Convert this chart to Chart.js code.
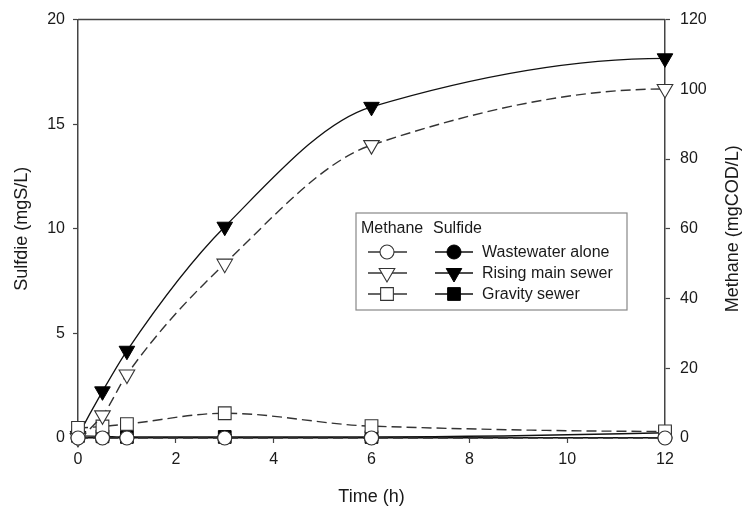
<!DOCTYPE html>
<html>
<head>
<meta charset="utf-8">
<script src="https://cdn.jsdelivr.net/npm/chart.js@4/dist/chart.umd.min.js"></script>
<style>
  html, body { margin: 0; padding: 0; background: #fff; }
  #wrap { width: 748px; height: 516px; }
</style>
</head>
<body>
<div id="wrap"><canvas id="c" width="748" height="516"></canvas></div>
<script>
// ---- Data ----
const times = [0, 0.5, 1, 3, 6, 12];
const methaneWastewater = [0, 0, 0, 0, 0, 0];
const methaneRising = [0, 6.5, 18.2, 50.0, 84.0, 100.1];
const methaneGravity = [2.9, 3.3, 4.0, 7.1, 3.4, 1.9];
const sulfideWastewater = [0.02, 0.02, 0.02, 0.02, 0.02, 0.02];
const sulfideRising = [0.1, 2.23, 4.17, 10.1, 15.83, 18.15];
const sulfideGravity = [0.1, 0.08, 0.05, 0.05, 0.05, 0.25];
const seriesNames = ['Wastewater alone', 'Rising main sewer', 'Gravity sewer'];
const legendHeaders = ['Methane', 'Sulfide'];
const xTicks = [0, 2, 4, 6, 8, 10, 12];
const leftTicks = [0, 5, 10, 15, 20];
const rightTicks = [0, 20, 40, 60, 80, 100, 120];
const xTitle = 'Time (h)';
const leftTitle = 'Sulfdie (mgS/L)';
const rightTitle = 'Methane (mgCOD/L)';

const FONT = '"Liberation Sans", Arial, sans-serif';
const pts = arr => times.map((t, i) => ({ x: t, y: arr[i] }));

const styles = [
  { pointStyle: 'circle', radius: 7, rotation: 0 },
  { pointStyle: 'triangle', radius: 9, rotation: 180 },
  { pointStyle: 'rect', radius: 9, rotation: 0 }
];

function methaneDs(label, arr, s) {
  return {
    label: 'Methane ' + label, data: pts(arr), yAxisID: 'yR',
    borderColor: '#333333', borderWidth: 1.4, borderDash: [10, 5],
    pointStyle: s.pointStyle, pointRadius: s.radius, pointRotation: s.rotation,
    pointBackgroundColor: '#ffffff', pointBorderColor: '#333333', pointBorderWidth: 1.1,
    cubicInterpolationMode: 'monotone', clip: false, fill: false
  };
}
function sulfideDs(label, arr, s) {
  return {
    label: 'Sulfide ' + label, data: pts(arr), yAxisID: 'yL',
    borderColor: '#111111', borderWidth: 1.3,
    pointStyle: s.pointStyle, pointRadius: s.radius, pointRotation: s.rotation,
    pointBackgroundColor: '#000000', pointBorderColor: '#000000', pointBorderWidth: 1,
    cubicInterpolationMode: 'monotone', clip: false, fill: false
  };
}

const datasets = [
  methaneDs(seriesNames[0], methaneWastewater, styles[0]),
  methaneDs(seriesNames[1], methaneRising, styles[1]),
  methaneDs(seriesNames[2], methaneGravity, styles[2]),
  sulfideDs(seriesNames[0], sulfideWastewater, styles[0]),
  sulfideDs(seriesNames[1], sulfideRising, styles[1]),
  sulfideDs(seriesNames[2], sulfideGravity, styles[2])
];

// Shape-preserving (PCHIP) control points computed from the library's pixel positions
function pchipSlopes(x, y) {
  const n = x.length;
  const h = [], del = [];
  for (let k = 0; k < n - 1; k++) { h.push(x[k + 1] - x[k]); del.push((y[k + 1] - y[k]) / h[k]); }
  const d = new Array(n).fill(0);
  if (n === 2) { d[0] = d[1] = del[0]; return d; }
  for (let k = 1; k < n - 1; k++) {
    if (del[k - 1] * del[k] > 0) {
      const w1 = 2 * h[k] + h[k - 1], w2 = h[k] + 2 * h[k - 1];
      d[k] = (w1 + w2) / (w1 / del[k - 1] + w2 / del[k]);
    }
  }
  const endSlope = (h0, h1, d0, d1) => {
    let s = ((2 * h0 + h1) * d0 - h0 * d1) / (h0 + h1);
    if (Math.sign(s) !== Math.sign(d0)) s = 0;
    else if (Math.sign(d0) !== Math.sign(d1) && Math.abs(s) > Math.abs(3 * d0)) s = 3 * d0;
    return s;
  };
  d[0] = endSlope(h[0], h[1], del[0], del[1]);
  d[n - 1] = endSlope(h[n - 2], h[n - 3], del[n - 2], del[n - 3]);
  return d;
}

const splinePlugin = {
  id: 'pchipSpline',
  beforeDatasetDraw(chart, args) {
    const meta = args.meta;
    const line = meta.dataset;
    if (!line || !meta.data || meta.data.length < 2) return;
    if (line.updateControlPoints) line.updateControlPoints(chart.chartArea, 'x');
    const p = meta.data;
    const xs = p.map(e => e.x), ys = p.map(e => e.y);
    const d = pchipSlopes(xs, ys);
    for (let i = 0; i < p.length; i++) {
      const hPrev = i > 0 ? xs[i] - xs[i - 1] : 0;
      const hNext = i < p.length - 1 ? xs[i + 1] - xs[i] : 0;
      p[i].cp1x = xs[i] - hPrev / 3; p[i].cp1y = ys[i] - d[i] * hPrev / 3;
      p[i].cp2x = xs[i] + hNext / 3; p[i].cp2y = ys[i] + d[i] * hNext / 3;
    }
    line._pointsUpdated = true;
    line._path = undefined;
  }
};

const decorPlugin = {
  id: 'decor',
  beforeDraw(chart) {
    const ctx = chart.ctx;
    ctx.save();
    ctx.fillStyle = '#ffffff';
    ctx.fillRect(0, 0, chart.width, chart.height);
    ctx.restore();
  },
  afterDraw(chart) {
    const ctx = chart.ctx;
    const a = chart.chartArea;
    ctx.save();
    // top frame line
    ctx.strokeStyle = '#444';
    ctx.lineWidth = 1.5;
    ctx.beginPath();
    ctx.moveTo(a.left, a.top);
    ctx.lineTo(a.right, a.top);
    ctx.stroke();

    // axis titles
    ctx.fillStyle = '#1a1a1a';
    ctx.font = '18px ' + FONT;
    ctx.textAlign = 'center';
    ctx.textBaseline = 'middle';
    ctx.fillText(xTitle, (a.left + a.right) / 2, 497);
    const midY = (a.top + a.bottom) / 2;
    ctx.save();
    ctx.translate(22, midY);
    ctx.rotate(-Math.PI / 2);
    ctx.fillText(leftTitle, 0, 0);
    ctx.restore();
    ctx.save();
    ctx.translate(733, midY);
    ctx.rotate(-Math.PI / 2);
    ctx.fillText(rightTitle, 0, 0);
    ctx.restore();

    // legend box
    const bx = 356, by = 213, bw = 627 - 356, bh = 310 - 213;
    ctx.fillStyle = '#ffffff';
    ctx.fillRect(bx, by, bw, bh);
    ctx.strokeStyle = '#888';
    ctx.lineWidth = 1.2;
    ctx.strokeRect(bx, by, bw, bh);

    ctx.fillStyle = '#1a1a1a';
    ctx.font = '16px ' + FONT;
    ctx.textAlign = 'left';
    ctx.fillText(legendHeaders[0], 361, 229);
    ctx.fillText(legendHeaders[1], 433, 229);

    const rowsY = [252, 273, 294];
    const colM = 387, colS = 454;
    for (let i = 0; i < 3; i++) {
      const y = rowsY[i];
      const s = styles[i];
      // methane
      ctx.strokeStyle = '#333';
      ctx.lineWidth = 1.3;
      ctx.beginPath();
      ctx.moveTo(colM - 19, y); ctx.lineTo(colM + 20, y);
      ctx.stroke();
      ctx.fillStyle = '#ffffff';
      ctx.strokeStyle = '#333';
      ctx.lineWidth = 1.1;
      Chart.helpers.drawPoint(ctx, { pointStyle: s.pointStyle, radius: s.radius, rotation: s.rotation, borderWidth: 1 }, colM, y);
      // sulfide
      ctx.strokeStyle = '#111';
      ctx.lineWidth = 1.3;
      ctx.beginPath();
      ctx.moveTo(colS - 19, y); ctx.lineTo(colS + 19, y);
      ctx.stroke();
      ctx.fillStyle = '#000';
      ctx.strokeStyle = '#000';
      ctx.lineWidth = 1;
      Chart.helpers.drawPoint(ctx, { pointStyle: s.pointStyle, radius: s.radius, rotation: s.rotation, borderWidth: 1 }, colS, y);
      // label
      ctx.fillStyle = '#1a1a1a';
      ctx.font = '16px ' + FONT;
      ctx.textAlign = 'left';
      ctx.textBaseline = 'middle';
      ctx.fillText(seriesNames[i], 482, y + 1);
    }
    ctx.restore();
  }
};

const tickFont = { family: FONT, size: 16 };

new Chart(document.getElementById('c'), {
  type: 'line',
  data: { datasets },
  options: {
    responsive: false,
    animation: false,
    devicePixelRatio: 1,
    layout: { padding: { left: 0, right: 0, top: 16, bottom: 0 } },
    plugins: { legend: { display: false }, tooltip: { enabled: false } },
    scales: {
      x: {
        type: 'linear', position: 'bottom', min: 0, max: 12,
        afterBuildTicks: s => { s.ticks = xTicks.map(v => ({ value: v })); },
        afterFit: s => { s.height = 78; },
        ticks: { font: tickFont, color: '#1a1a1a', padding: 7, maxRotation: 0 },
        grid: { display: true, drawOnChartArea: false, drawTicks: true, tickLength: 5, color: '#444', tickWidth: 1.2 },
        border: { display: true, color: '#444', width: 1.5 }
      },
      yL: {
        type: 'linear', position: 'left', min: 0, max: 20,
        afterBuildTicks: s => { s.ticks = leftTicks.map(v => ({ value: v })); },
        afterFit: s => { s.width = 78; },
        ticks: { font: tickFont, color: '#1a1a1a', padding: 8 },
        grid: { display: true, drawOnChartArea: false, drawTicks: true, tickLength: 5, color: '#444', tickWidth: 1.2 },
        border: { display: true, color: '#444', width: 1.5 }
      },
      yR: {
        type: 'linear', position: 'right', min: 0, max: 120,
        afterBuildTicks: s => { s.ticks = rightTicks.map(v => ({ value: v })); },
        afterFit: s => { s.width = 83; },
        ticks: { font: tickFont, color: '#1a1a1a', padding: 10 },
        grid: { display: true, drawOnChartArea: false, drawTicks: true, tickLength: 5, color: '#444', tickWidth: 1.2 },
        border: { display: true, color: '#444', width: 1.5 }
      }
    }
  },
  plugins: [splinePlugin, decorPlugin]
});
</script>
</body>
</html>
